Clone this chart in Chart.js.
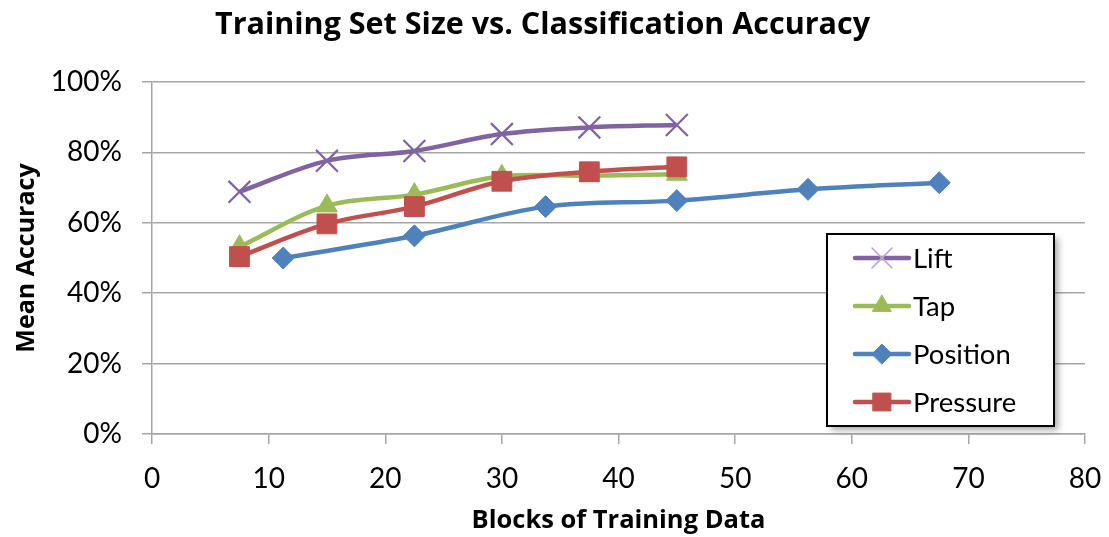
<!DOCTYPE html>
<html>
<head>
<meta charset="utf-8">
<script src="https://cdn.jsdelivr.net/npm/chart.js@4/dist/chart.umd.min.js"></script>
<style>
  html, body { margin: 0; padding: 0; background: #fff; }
  #wrap { width: 1109px; height: 537px; }
</style>
</head>
<body>
<div id="wrap"><canvas id="c" width="1109" height="537"></canvas></div>
<script>
// Blocks of training data used for each run
const blocksTouch = [7.5, 15, 22.5, 30, 37.5, 45];
const blocksPosition = [11.25, 22.5, 33.75, 45, 56.25, 67.5];

// Mean accuracy (%) per feature set
const liftAcc = [68.8, 77.6, 80.4, 85.2, 87.1, 87.8];
const tapAcc = [53.2, 64.8, 68.0, 73.2, 73.4, 73.8];
const positionAcc = [50.0, 56.3, 64.6, 66.3, 69.5, 71.4];
const pressureAcc = [50.4, 59.7, 64.6, 71.8, 74.5, 75.9];

const seriesNames = ['Lift', 'Tap', 'Position', 'Pressure'];

// Axis tick values
const xTicks = [0, 10, 20, 30, 40, 50, 60, 70, 80];
const yTicks = [0, 20, 40, 60, 80, 100];

function pts(xs, ys) { return xs.map((x, i) => ({ x: x, y: ys[i] })); }

const FONT = 'Lato, "Open Sans", "Noto Sans", sans-serif';
const TITLE_FONT = '"Open Sans", Lato, "Noto Sans", sans-serif';
Chart.defaults.font.family = FONT;
Chart.defaults.color = '#000';

const GRID = '#a6a6a6';

const styles = [
  { color: '#8064A2', pointStyle: 'crossRot', radius: 15.5, pointBorderWidth: 2.2, fill: '#8064A2' },
  { color: '#9BBB59', pointStyle: 'triangle', radius: 12, pointBorderWidth: 1, fill: '#9BBB59' },
  { color: '#4F81BD', pointStyle: 'rectRot', radius: 11, pointBorderWidth: 1, fill: '#4F81BD' },
  { color: '#C0504D', pointStyle: 'rect', radius: 14, pointBorderWidth: 1, fill: '#C0504D' }
];
const seriesData = [pts(blocksTouch, liftAcc), pts(blocksTouch, tapAcc), pts(blocksPosition, positionAcc), pts(blocksTouch, pressureAcc)];

const datasets = seriesNames.map((name, i) => ({
  label: name,
  data: seriesData[i],
  showLine: true,
  borderColor: styles[i].color,
  backgroundColor: styles[i].fill,
  borderWidth: 4.5,
  tension: 0.35,
  pointStyle: styles[i].pointStyle,
  pointRadius: styles[i].radius,
  pointHoverRadius: styles[i].radius,
  pointBorderWidth: styles[i].pointBorderWidth,
  pointBorderColor: styles[i].color,
  pointBackgroundColor: styles[i].fill,
  order: 3 - i
}));

// Boxed legend drawn inside the plot, lower right
const boxLegend = {
  id: 'boxLegend',
  afterDraw(chart) {
    const ctx = chart.ctx;
    const left = 827, top = 234, w = 227, h = 192;
    ctx.save();
    ctx.shadowColor = 'rgba(0,0,0,0.35)';
    ctx.shadowBlur = 7;
    ctx.shadowOffsetX = 4;
    ctx.shadowOffsetY = 4;
    ctx.fillStyle = '#fff';
    ctx.fillRect(left, top, w, h);
    ctx.restore();
    ctx.save();
    ctx.strokeStyle = '#000';
    ctx.lineWidth = 2;
    ctx.strokeRect(left, top, w, h);
    const rowY = [258, 306, 354, 402];
    chart.data.datasets.forEach((ds, i) => {
      const y = rowY[i];
      ctx.strokeStyle = ds.borderColor;
      ctx.lineWidth = 4.5;
      ctx.lineCap = 'round';
      ctx.beginPath();
      ctx.moveTo(855, y);
      ctx.lineTo(909, y);
      ctx.stroke();
      const isCross = ds.pointStyle === 'crossRot';
      ctx.fillStyle = ds.pointBackgroundColor;
      ctx.strokeStyle = isCross ? '#b9a8cf' : ds.pointBorderColor;
      ctx.lineWidth = isCross ? 1.5 : ds.pointBorderWidth;
      Chart.helpers.drawPoint(ctx, {
        pointStyle: ds.pointStyle,
        radius: isCross ? 14 : ds.pointRadius * 0.9,
        rotation: 0,
        borderWidth: ctx.lineWidth
      }, 882, y);
      ctx.fillStyle = '#000';
      ctx.font = '27.5px ' + FONT;
      ctx.textAlign = 'left';
      ctx.textBaseline = 'middle';
      ctx.fillText(ds.label, 913, y + 1);
    });
    ctx.restore();
  }
};

new Chart(document.getElementById('c'), {
  type: 'scatter',
  data: { datasets: datasets },
  plugins: [boxLegend],
  options: {
    responsive: false,
    animation: false,
    events: [],
    layout: { padding: { top: 0, left: 0, right: 24, bottom: 0 }, autoPadding: false },
    plugins: {
      legend: { display: false },
      tooltip: { enabled: false },
      title: {
        display: true,
        text: 'Training Set Size vs. Classification Accuracy',
        font: { size: 30.5, weight: 'bold', family: TITLE_FONT },
        color: '#000',
        padding: { top: 7, bottom: 38.4 }
      }
    },
    scales: {
      x: {
        type: 'linear',
        min: 0, max: 80,
        afterBuildTicks(scale) { scale.ticks = xTicks.map(v => ({ value: v })); },
        afterFit(scale) { scale.height = 103; scale.paddingLeft = 0; scale.paddingRight = 0; },
        ticks: { font: { size: 28 }, padding: 18, maxRotation: 0, color: '#000' },
        grid: { drawOnChartArea: false, drawTicks: true, tickLength: 10, color: GRID, lineWidth: 1.5 },
        border: { display: true, color: GRID, width: 1.5 },
        title: {
          display: true,
          text: 'Blocks of Training Data',
          font: { size: 25.5, weight: 'bold', family: TITLE_FONT },
          color: '#000',
          padding: { top: 0, bottom: 1 }
        }
      },
      y: {
        min: 0, max: 100,
        afterBuildTicks(scale) { scale.ticks = yTicks.map(v => ({ value: v })); },
        afterFit(scale) { scale.width = 152; },
        ticks: { font: { size: 28 }, padding: 20, color: '#000', callback: v => v + '%' },
        grid: { drawTicks: true, tickLength: 10, color: GRID, lineWidth: 1.5 },
        border: { display: true, color: GRID, width: 1.5 },
        title: {
          display: true,
          text: 'Mean Accuracy',
          font: { size: 25, weight: 'bold', family: TITLE_FONT },
          color: '#000',
          padding: { top: 12, bottom: 0 }
        }
      }
    }
  }
});
</script>
</body>
</html>
